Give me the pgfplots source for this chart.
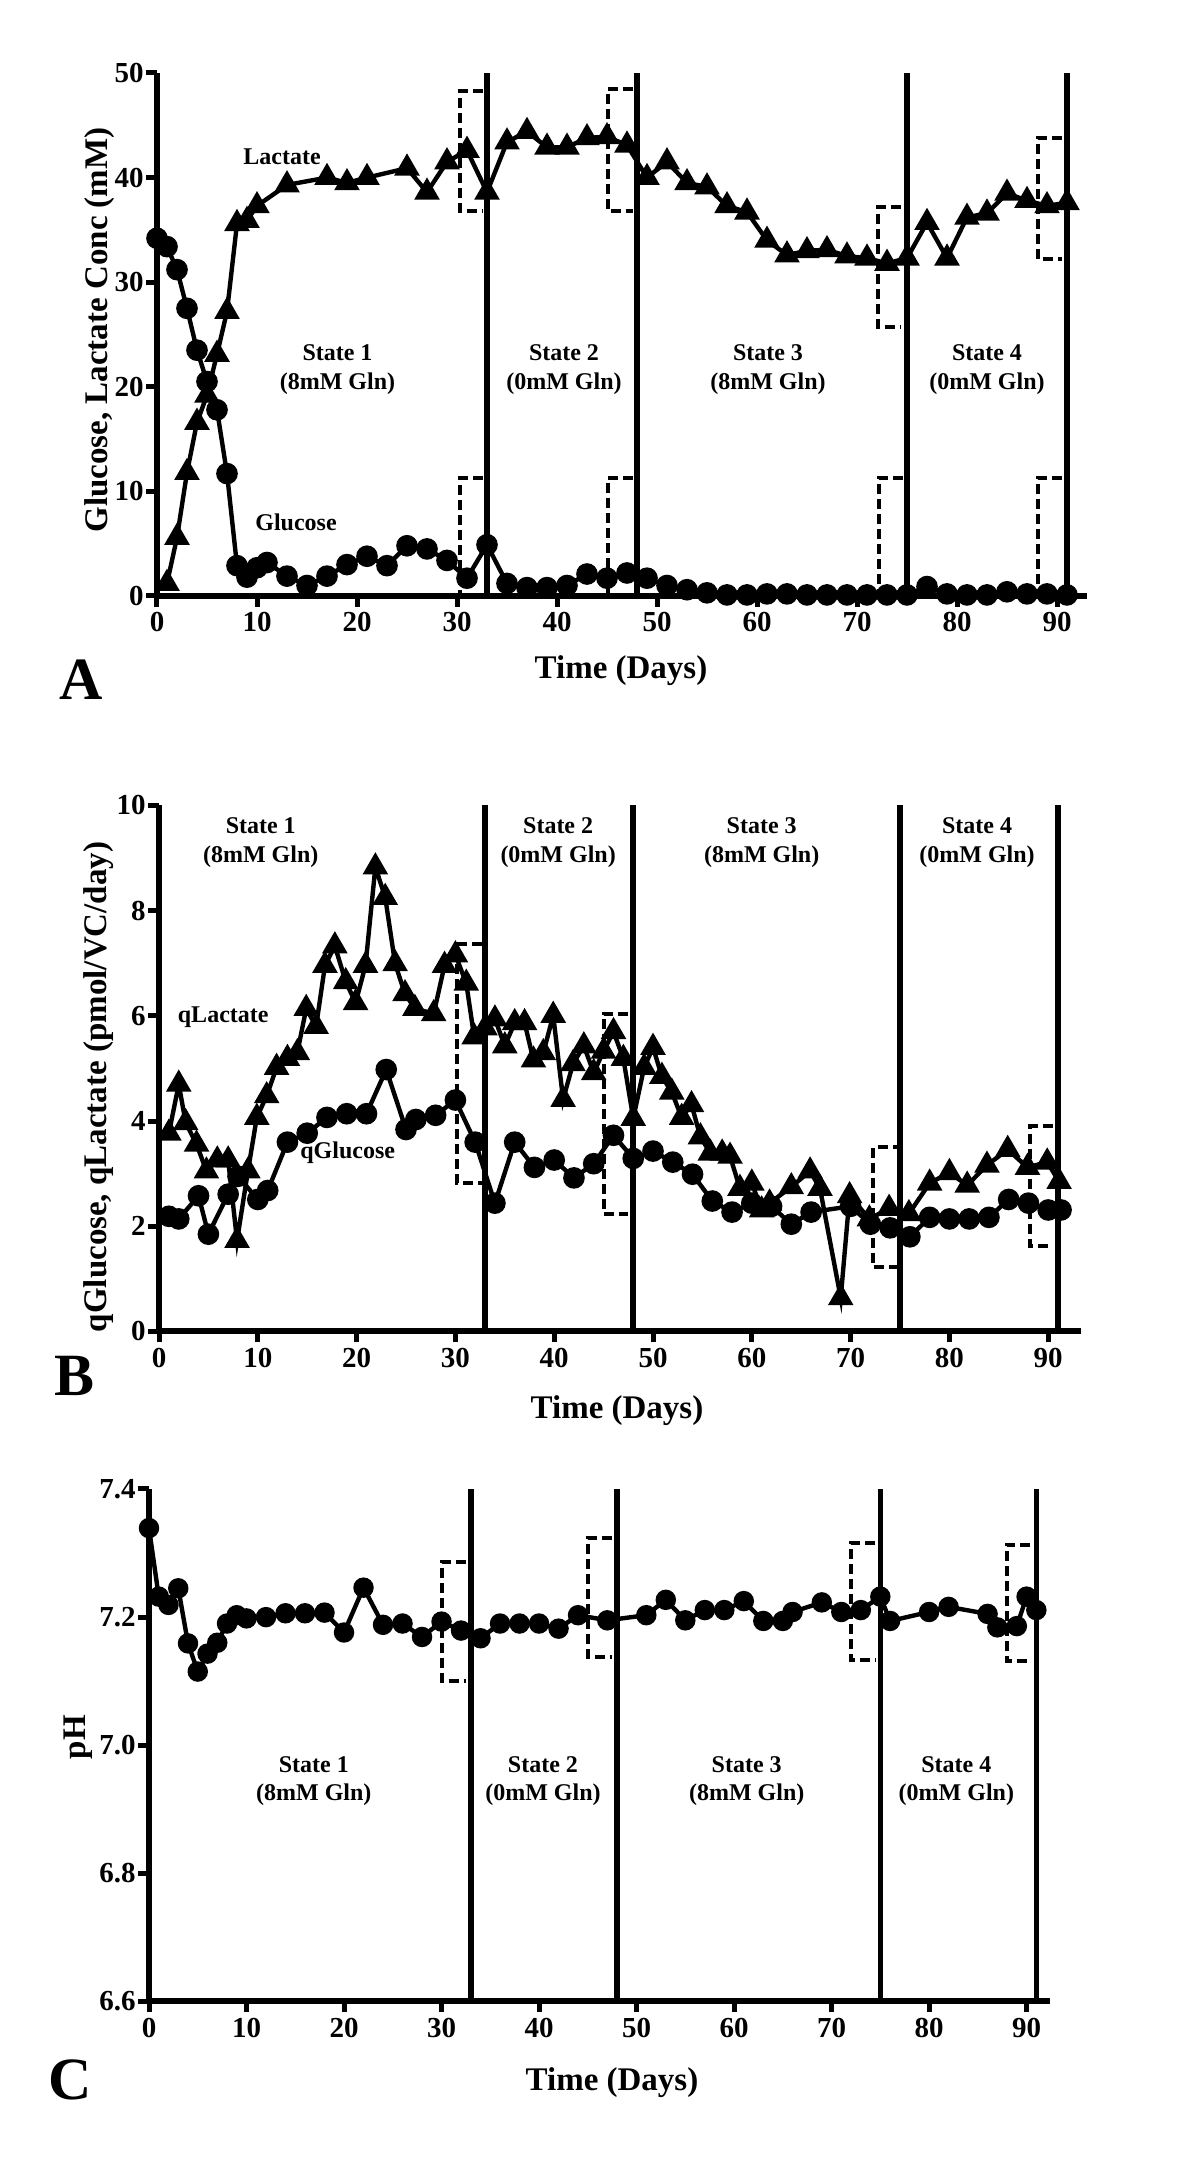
\documentclass[border=0pt]{standalone}
\usepackage{fontspec}
\setmainfont{Liberation Serif}
\usepackage{pgfplots}
\pgfplotsset{compat=1.18}
\pgfplotsset{
 panel/.style={
  scale only axis, clip=false,
  axis x line*=bottom, axis y line*=left,
  axis line style={line width=3pt,-},
  tick style={line width=2.5pt, black},
  tick align=outside, major tick length=5.5pt,
  xmin=0, xtick={0,10,...,90},
  /pgf/number format/assume math mode=true,
  ticklabel style={font=\fontsize{14.5}{15}\selectfont\bfseries},
  xticklabel style={inner sep=2.5pt},
  yticklabel style={inner sep=1pt},
 },
 datac/.style={black, line width=2.2pt, mark=*, mark size=4.3pt, mark options={solid}},
 datat/.style={black, line width=2.2pt, mark=triangle*, mark size=5.2pt, mark options={solid}},
 sline/.style={black, line width=2.8pt, no marks},
 brk/.style={black, line width=2pt, no marks, dash pattern=on 5pt off 2.5pt},
}
\tikzset{
 stlab/.style={font=\fontsize{12}{14.3}\selectfont\bfseries, align=center},
 axlab/.style={font=\fontsize{16.5}{18}\selectfont\bfseries, inner sep=0pt},
 plab/.style={font=\fontsize{30}{32}\selectfont\bfseries, inner sep=0pt},
}
\begin{document}
\begin{tikzpicture}
\useasboundingbox (0,0) rectangle (600pt,1082.5pt);

% ---------------- Panel A ----------------
\begin{axis}[panel, at={(78.5pt,784.5pt)}, anchor=south west,
  width=465pt, height=261.5pt, xmax=93, ymin=0, ymax=50,
  ytick={0,10,...,50}]
\addplot[sline] coordinates {(33,0)(33,50)};
\addplot[sline] coordinates {(48,0)(48,50)};
\addplot[sline] coordinates {(75,0)(75,50)};
\addplot[sline] coordinates {(91,0)(91,50)};
\addplot[brk] coordinates {(32.6,48.3)(30.3,48.3)(30.3,36.8)(32.6,36.8)};
\addplot[brk] coordinates {(47.6,48.5)(45.1,48.5)(45.1,36.8)(47.6,36.8)};
\addplot[brk] coordinates {(74.4,37.2)(72.1,37.2)(72.1,25.7)(74.4,25.7)};
\addplot[brk] coordinates {(90.5,43.8)(88.1,43.8)(88.1,32.2)(90.5,32.2)};
\addplot[brk] coordinates {(32.6,11.3)(30.3,11.3)(30.3,0)};
\addplot[brk] coordinates {(47.6,11.3)(45.1,11.3)(45.1,0)};
\addplot[brk] coordinates {(74.6,11.3)(72.2,11.3)(72.2,0)};
\addplot[brk] coordinates {(90.5,11.3)(88.1,11.3)(88.1,0)};
\addplot[datac] coordinates {(0,34.2)(1,33.4)(2,31.2)(3,27.5)(4,23.5)(5,20.5)(6,17.8)(7,11.7)(8,2.9)(9,1.8)(10,2.7)(11,3.2)(13,1.9)(15,1.0)(17,1.9)(19,3.0)(21,3.8)(23,2.9)(25,4.8)(27,4.5)(29,3.4)(31,1.7)(33,4.9)(35,1.2)(37,0.8)(39,0.8)(41,1.0)(43,2.1)(45,1.7)(47,2.2)(49,1.7)(51,1.0)(53,0.6)(55,0.3)(57,0.1)(59,0.1)(61,0.2)(63,0.2)(65,0.1)(67,0.1)(69,0.1)(71,0.1)(73,0.1)(75,0.1)(77,0.9)(79,0.2)(81,0.1)(83,0.1)(85,0.4)(87,0.2)(89,0.2)(91,0.1)};
\addplot[datat] coordinates {(1,1.2)(2,5.6)(3,11.8)(4,16.6)(5,19.2)(6,23.1)(7,27.2)(8,35.6)(9,35.9)(10,37.3)(13,39.3)(17,40.0)(19,39.5)(21,40.0)(25,40.9)(27,38.6)(29,41.5)(31,42.6)(33,38.6)(35,43.4)(37,44.4)(39,42.9)(41,42.9)(43,43.8)(45,43.9)(47,43.1)(49,40.0)(51,41.5)(53,39.5)(55,39.1)(57,37.3)(59,36.7)(61,34.0)(63,32.6)(65,33.0)(67,33.1)(69,32.5)(71,32.3)(73,31.8)(75,32.3)(77,35.7)(79,32.3)(81,36.2)(83,36.6)(85,38.5)(87,37.8)(89,37.3)(91,37.6)};
\node[stlab] at (axis cs:12.5,42) {Lactate};
\node[stlab] at (axis cs:13.9,7.0) {Glucose};
\node[stlab] at (axis cs:18.05,21.65) {State 1\\(8mM Gln)};
\node[stlab] at (axis cs:40.7,21.65) {State 2\\(0mM Gln)};
\node[stlab] at (axis cs:61.1,21.65) {State 3\\(8mM Gln)};
\node[stlab] at (axis cs:83.0,21.65) {State 4\\(0mM Gln)};
\end{axis}

% ---------------- Panel B ----------------
\begin{axis}[panel, at={(79.5pt,416.75pt)}, anchor=south west,
  width=460.9pt, height=263pt, xmax=93.3, ymin=0, ymax=10,
  ytick={0,2,...,10}]
\addplot[sline] coordinates {(33,0)(33,10)};
\addplot[sline] coordinates {(48,0)(48,10)};
\addplot[sline] coordinates {(75,0)(75,10)};
\addplot[sline] coordinates {(91,0)(91,10)};
\addplot[brk] coordinates {(32.7,7.37)(30.2,7.37)(30.2,2.82)(32.7,2.82)};
\addplot[brk] coordinates {(47.5,6.04)(45.0,6.04)(45.0,2.24)(47.5,2.24)};
\addplot[brk] coordinates {(75.3,3.50)(72.3,3.50)(72.3,1.22)(75.3,1.22)};
\addplot[brk] coordinates {(90.5,3.90)(88.2,3.90)(88.2,1.63)(90.5,1.63)};
\addplot[datac] coordinates {(1,2.19)(2,2.14)(4,2.58)(5,1.85)(7,2.61)(8,2.95)(10,2.51)(11,2.68)(13,3.60)(15,3.77)(17,4.07)(19,4.14)(21,4.14)(23,4.98)(25,3.84)(26,4.03)(28,4.11)(30,4.40)(32,3.60)(34,2.44)(36,3.60)(38,3.12)(40,3.26)(42,2.92)(44,3.19)(46,3.73)(48,3.29)(50,3.43)(52,3.22)(54,2.99)(56,2.48)(58,2.27)(60,2.44)(62,2.38)(64,2.04)(66,2.27)(70,2.38)(72,2.04)(74,1.97)(76,1.80)(78,2.17)(80,2.14)(82,2.14)(84,2.17)(86,2.51)(88,2.44)(90,2.31)(91.3,2.31)};
\addplot[datat] coordinates {(1,3.77)(2,4.70)(2.7,3.97)(3.8,3.56)(4.8,3.05)(5.9,3.26)(7,3.26)(7.9,1.73)(9,3.05)(9.9,4.07)(10.9,4.48)(11.9,5.02)(13,5.19)(14,5.30)(14.9,6.14)(15.9,5.80)(16.8,6.96)(17.8,7.33)(18.9,6.65)(19.9,6.25)(20.9,6.96)(21.9,8.83)(22.9,8.25)(23.9,6.99)(24.9,6.42)(25.9,6.14)(27.8,6.04)(28.9,6.96)(30,7.16)(31.1,6.62)(31.9,5.60)(33,5.77)(34,5.94)(35,5.43)(36,5.87)(37,5.87)(37.9,5.16)(38.9,5.30)(39.9,6.01)(40.9,4.41)(41.9,5.09)(43,5.43)(44,4.92)(45,5.33)(46,5.70)(47,5.19)(48,4.05)(49.1,5.02)(50,5.40)(50.9,4.85)(51.9,4.55)(52.9,4.07)(53.9,4.31)(54.8,3.70)(55.8,3.39)(57,3.39)(57.8,3.33)(58.8,2.72)(60,2.82)(61,2.31)(61.8,2.44)(64,2.75)(65.9,3.05)(66.9,2.72)(69,0.64)(69.9,2.58)(71.9,2.14)(73.9,2.34)(75.9,2.24)(78,2.82)(80,3.02)(81.8,2.78)(83.8,3.16)(85.9,3.46)(87.9,3.12)(89.9,3.22)(91.1,2.85)};
\node[stlab] at (axis cs:6.5,5.98) {qLactate};
\node[stlab] at (axis cs:19.1,3.4) {qGlucose};
\node[stlab] at (axis cs:10.3,9.3) {State 1\\(8mM Gln)};
\node[stlab] at (axis cs:40.4,9.3) {State 2\\(0mM Gln)};
\node[stlab] at (axis cs:61.0,9.3) {State 3\\(8mM Gln)};
\node[stlab] at (axis cs:82.8,9.3) {State 4\\(0mM Gln)};
\end{axis}

% ---------------- Panel C ----------------
\begin{axis}[panel, at={(74.5pt,81.75pt)}, anchor=south west,
  width=450.5pt, height=256.25pt, xmax=92.4, ymin=6.6, ymax=7.4,
  ytick={6.6,6.8,7.0,7.2,7.4},
  yticklabel style={/pgf/number format/.cd, fixed, fixed zerofill, precision=1}]
\addplot[sline] coordinates {(33,6.6)(33,7.4)};
\addplot[sline] coordinates {(48,6.6)(48,7.4)};
\addplot[sline] coordinates {(75,6.6)(75,7.4)};
\addplot[sline] coordinates {(91,6.6)(91,7.4)};
\addplot[brk] coordinates {(32.5,7.286)(30.0,7.286)(30.0,7.101)(32.5,7.101)};
\addplot[brk] coordinates {(47.5,7.323)(45.0,7.323)(45.0,7.138)(47.5,7.138)};
\addplot[brk] coordinates {(74.5,7.315)(72.0,7.315)(72.0,7.133)(74.5,7.133)};
\addplot[brk] coordinates {(90.4,7.313)(88.0,7.313)(88.0,7.131)(90.4,7.131)};
\addplot[datac, mark size=4pt] coordinates {(0,7.339)(1,7.232)(2,7.219)(3,7.245)(4,7.159)(5,7.115)(6,7.143)(7,7.160)(8,7.190)(9,7.203)(10,7.198)(12,7.200)(14,7.206)(16,7.206)(18,7.207)(20,7.176)(22,7.246)(24,7.188)(26,7.190)(28,7.169)(30,7.193)(32,7.179)(34,7.167)(36,7.190)(38,7.190)(40,7.190)(42,7.182)(44,7.203)(47,7.195)(51,7.203)(53,7.227)(55,7.195)(57,7.211)(59,7.211)(61,7.225)(63,7.194)(65,7.194)(66,7.208)(69,7.223)(71,7.208)(73,7.211)(75,7.232)(76,7.194)(80,7.208)(82,7.216)(86,7.205)(87,7.184)(89,7.186)(90,7.232)(91,7.211)};
\node[stlab] at (axis cs:16.9,6.944) {State 1\\(8mM Gln)};
\node[stlab] at (axis cs:40.4,6.944) {State 2\\(0mM Gln)};
\node[stlab] at (axis cs:61.3,6.944) {State 3\\(8mM Gln)};
\node[stlab] at (axis cs:82.8,6.944) {State 4\\(0mM Gln)};
\end{axis}

% ---------------- labels ----------------
\node[axlab] at (310.5pt,747pt) {Time (Days)};
\node[axlab] at (308.5pt,377pt) {Time (Days)};
\node[axlab] at (306pt,41pt) {Time (Days)};
\node[axlab, rotate=90] at (49.75pt,917.5pt) {Glucose, Lactate Conc (mM)};
\node[axlab, rotate=90] at (49.5pt,539pt) {qGlucose, qLactate (pmol/VC/day)};
\node[axlab, rotate=90] at (39pt,214pt) {pH};
\node[plab] at (40.75pt,742.75pt) {A};
\node[plab] at (37.3pt,394.75pt) {B};
\node[plab] at (35.2pt,42.5pt) {C};
\end{tikzpicture}
\end{document}
